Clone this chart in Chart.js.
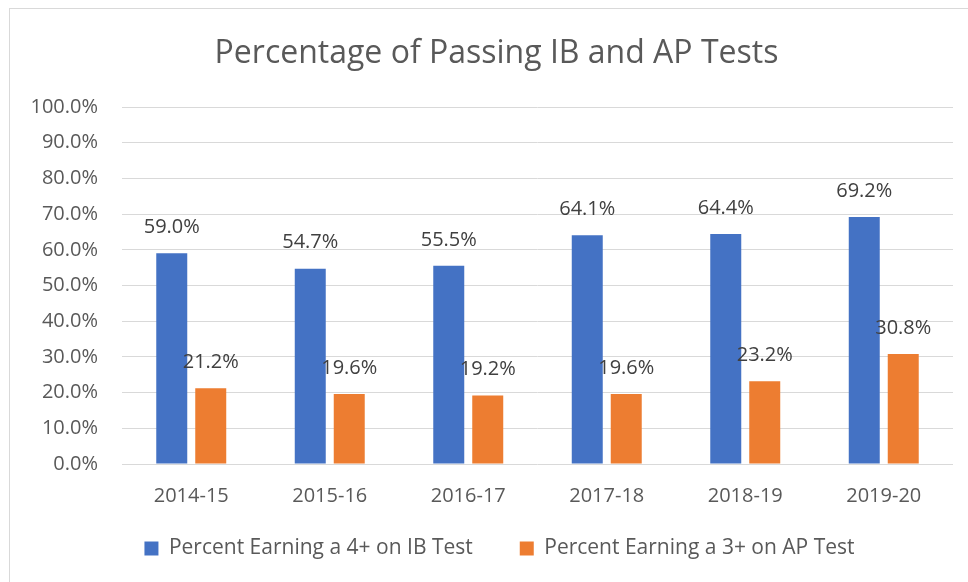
<!DOCTYPE html>
<html lang="en">
<head>
<meta charset="UTF-8">
<title>Percentage of Passing IB and AP Tests</title>
<script src="https://cdn.jsdelivr.net/npm/chart.js"></script>
<style>
    body {
        margin: 0;
        background: #ffffff;
        overflow: hidden;
    }

    /* light frame around the chart object, like the Excel chart border */
    .frame {
        position: absolute;
        left: 9px;
        top: 8px;
        width: 1000px;
        height: 620px;
        border: 1px solid #d9d9d9;
    }

    canvas {
        position: absolute;
        left: 0;
        top: 0;
    }
</style>
</head>
<body>
<div class="frame"></div>
<canvas id="passChart" width="968" height="582"></canvas>

<script>
    const years = ["2014-15", "2015-16", "2016-17", "2017-18", "2018-19", "2019-20"];
    const ibPassing = [59.0, 54.7, 55.5, 64.1, 64.4, 69.2];
    const apPassing = [21.2, 19.6, 19.2, 19.6, 23.2, 30.8];
    const seriesNames = ["Percent Earning a 4+ on IB Test", "Percent Earning a 3+ on AP Test"];
    const yTickMin = 0;
    const yTickMax = 100;
    const yTickStep = 10;

    const textGrey = "#595959";
    const fontFamily = "'Open Sans', sans-serif";

    // value labels above each bar (Excel style)
    const valueLabels = {
        id: "valueLabels",
        afterDatasetsDraw(chart) {
            const ctx = chart.ctx;
            ctx.save();
            ctx.font = "20px " + fontFamily;
            ctx.fillStyle = "#404040";
            ctx.textAlign = "center";
            ctx.textBaseline = "middle";
            chart.data.datasets.forEach((ds, i) => {
                chart.getDatasetMeta(i).data.forEach((bar, j) => {
                    ctx.fillText(ds.data[j].toFixed(1) + "%", bar.x, bar.y - 26);
                });
            });
            ctx.restore();
        }
    };

    // the Excel chart centres title and legend on the whole chart object,
    // a bit to the right of where Chart.js would put them
    const centreShift = {
        id: "centreShift",
        afterLayout(chart) {
            if (chart.titleBlock) {
                chart.titleBlock.left += 20;
                chart.titleBlock.right += 20;
            }
            if (chart.legend) {
                chart.legend.left += 23;
                chart.legend.right += 23;
            }
        }
    };

    new Chart(document.getElementById("passChart"), {
        type: "bar",
        data: {
            labels: years,
            datasets: [{
                label: seriesNames[0],
                data: ibPassing,
                backgroundColor: "#4472C4",
                borderWidth: 0
            }, {
                label: seriesNames[1],
                data: apPassing,
                backgroundColor: "#ED7D31",
                borderWidth: 0
            }]
        },
        options: {
            responsive: false,
            animation: false,
            devicePixelRatio: 1,
            categoryPercentage: 0.563,
            barPercentage: 0.795,
            layout: {
                padding: { left: 0, right: 15, top: 0, bottom: 13 }
            },
            scales: {
                x: {
                    grid: { display: false },
                    border: { display: false },
                    ticks: {
                        color: textGrey,
                        font: { family: fontFamily, size: 20 },
                        // mirror only to switch off label clipping; negative padding puts them back below the axis
                        mirror: true,
                        padding: -44
                    },
                    afterFit(scale) { scale.height = 27; }
                },
                y: {
                    min: yTickMin,
                    max: yTickMax,
                    grid: { color: "#d9d9d9", lineWidth: 1, drawTicks: false },
                    border: { display: false },
                    ticks: {
                        stepSize: yTickStep,
                        color: textGrey,
                        font: { family: fontFamily, size: 20 },
                        padding: 24,
                        callback: v => v.toFixed(1) + "%"
                    },
                    afterFit(scale) { scale.width = 122; }
                }
            },
            plugins: {
                title: {
                    display: true,
                    text: "Percentage of Passing IB and AP Tests",
                    color: textGrey,
                    font: { family: fontFamily, size: 32, weight: "normal" },
                    padding: { top: 35, bottom: 33.6 }
                },
                legend: {
                    position: "bottom",
                    labels: {
                        color: textGrey,
                        font: { family: fontFamily, size: 21 },
                        boxWidth: 14,
                        boxHeight: 14,
                        padding: 47
                    }
                },
                tooltip: { enabled: false }
            }
        },
        plugins: [valueLabels, centreShift]
    });
</script>
</body>
</html>
